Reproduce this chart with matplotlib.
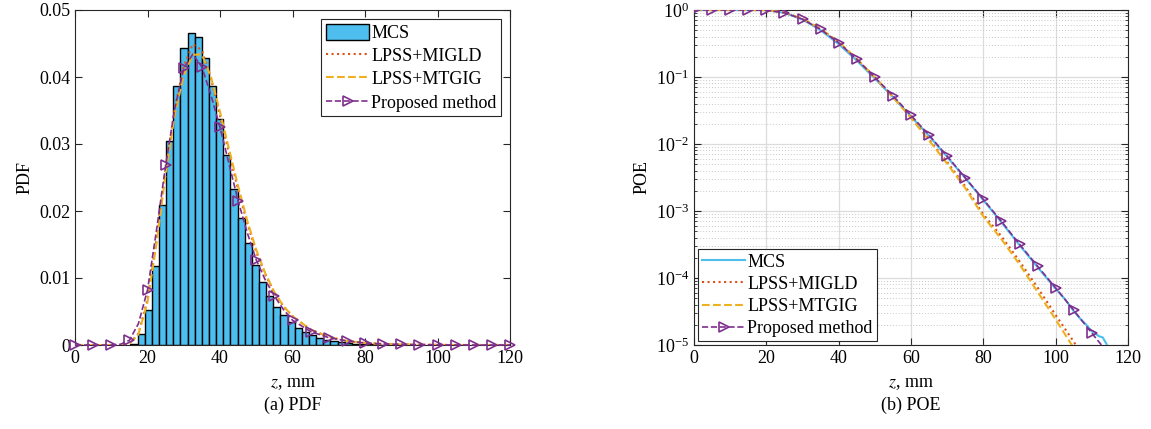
import numpy as np
import matplotlib
matplotlib.use("Agg")
import matplotlib.pyplot as plt
from matplotlib.patches import Patch
from matplotlib.lines import Line2D
from matplotlib.ticker import LogLocator, LogFormatterMathtext, NullFormatter

plt.rcParams["font.family"] = ["Liberation Serif", "DejaVu Serif"]
plt.rcParams["mathtext.fontset"] = "stix"
plt.rcParams["font.size"] = 13

# ── data ────────────────────────────────────────────────────────────

# MCS histogram (2 mm bins, first edge at 15.3 mm)
hist_edge0 = 15.3
hist_width = 1.97
hist_pdf = [0.0002, 0.0016, 0.0052, 0.0118, 0.0209, 0.0304, 0.0387, 0.0444,
            0.0466, 0.0459, 0.0429, 0.0387, 0.0337, 0.0283, 0.0233, 0.0190,
            0.0152, 0.0120, 0.0094, 0.0073, 0.0057, 0.0045, 0.0034, 0.0026,
            0.0020, 0.0015, 0.0011, 0.0008, 0.0006, 0.0005, 0.0003, 0.0002,
            0.00015, 0.0001, 0.00008, 0.00005]

z_pdf = [0, 5, 10, 12.5, 15, 17.5, 20, 22.5, 25, 27.5, 30, 32.5, 35, 37.5, 40,
         42.5, 45, 47.5, 50, 52.5, 55, 57.5, 60, 65, 70, 75, 80, 85, 90, 95,
         100, 105, 110, 115, 120]
pdf_migld = [0, 0, 0, 0, 0.0002, 0.0017, 0.0068, 0.0158, 0.0262, 0.0352,
             0.0416, 0.0449, 0.0440, 0.0398, 0.0342, 0.0286, 0.0232, 0.0182,
             0.0139, 0.0105, 0.0078, 0.0058, 0.0043, 0.0023, 0.0012, 0.0006,
             0.0003, 0.00015, 0.00008, 0.00004, 0.00002, 0, 0, 0, 0]
pdf_mtgig = [0, 0, 0, 0, 0.0002, 0.0016, 0.0064, 0.0152, 0.0255, 0.0343,
             0.0403, 0.0433, 0.0434, 0.0400, 0.0348, 0.0292, 0.0237, 0.0186,
             0.0142, 0.0107, 0.0079, 0.0058, 0.0043, 0.0023, 0.0012, 0.0006,
             0.0003, 0.00015, 0.00008, 0.00004, 0.00002, 0, 0, 0, 0]
pdf_proposed = [0, 0, 0, 0.0001, 0.0007, 0.0032, 0.0082, 0.0172, 0.0268,
                0.0352, 0.0413, 0.0434, 0.0415, 0.0373, 0.0325, 0.0270, 0.0215,
                0.0168, 0.0127, 0.0097, 0.0073, 0.0053, 0.0037, 0.0020, 0.0011,
                0.0006, 0.0003, 0.00015, 0.0001, 0.00005, 0.00003, 0.00001,
                0, 0, 0]

z_poe = [0, 5, 10, 15, 20, 25, 30, 35, 40, 45, 50, 55, 60, 65, 70, 75, 80,
         85, 90, 95, 100, 105, 110, 115, 120]
poe_migld = [1, 1, 1, 1, 0.995, 0.915, 0.735, 0.52, 0.33, 0.186, 0.099, 0.051,
             0.025, 0.0117, 0.0054, 0.00234, 8.9e-4, 4.2e-4, 1.78e-4, 7.2e-5,
             2.8e-5, 1.12e-5, 4e-6, 1.4e-6, 5e-7]
poe_mtgig = [1, 1, 1, 1, 0.995, 0.918, 0.74, 0.525, 0.333, 0.187, 0.099,
             0.050, 0.0245, 0.0113, 0.0051, 0.0022, 8.3e-4, 3.8e-4, 1.6e-4,
             6.2e-5, 2.4e-5, 9e-6, 3.2e-6, 1.1e-6, 4e-7]
poe_proposed = [1, 1, 1, 1, 0.99, 0.912, 0.73, 0.514, 0.325, 0.184, 0.099,
                0.0526, 0.0268, 0.01355, 0.00659, 0.00313, 0.00149, 7.0e-4,
                3.2e-4, 1.5e-4, 7.1e-5, 3.3e-5, 1.5e-5, 7e-6, 3.3e-6]

z_mcs = [0, 5, 10, 15, 20, 25, 30, 35, 40, 45, 50, 55, 60, 65, 70, 75, 80,
         85, 90, 95, 100, 102.5, 105, 107, 108.5, 110, 112, 113, 114, 115]
poe_mcs = [1, 1, 1, 1, 0.995, 0.905, 0.72, 0.50, 0.31, 0.176, 0.095, 0.050,
           0.0258, 0.0132, 0.0064, 0.0031, 0.00145, 6.8e-4, 3.1e-4, 1.45e-4,
           6.9e-5, 4.9e-5, 3.2e-5, 2.4e-5, 2.0e-5, 1.6e-5, 1.35e-5, 1.3e-5,
           1.05e-5, 8e-6]

labels = ["MCS", "LPSS+MIGLD", "LPSS+MTGIG", "Proposed method"]

# ── styles ───────────────────────────────────────────────────────────
C_MCS = "#4DBEEE"
C_MIGLD = "#D95319"
C_MTGIG = "#EDB120"
C_PROP = "#7E2F8E"
AX_COL = "#262626"

fig = plt.figure(figsize=(11.51, 4.29), dpi=100)
ax1 = fig.add_axes([75 / 1151, 1 - 345 / 429, 435 / 1151, 335 / 429])
ax2 = fig.add_axes([694 / 1151, 1 - 345 / 429, 434 / 1151, 335 / 429])


def style_axes(ax):
    for s in ax.spines.values():
        s.set_color(AX_COL)
        s.set_linewidth(0.8)
    ax.tick_params(which="both", direction="in", top=True, right=True,
                   colors=AX_COL, labelcolor="black", labelsize=13)
    ax.tick_params(which="major", length=5)
    ax.tick_params(which="minor", length=2.5)


def marks(z):
    return [float(v) % 5 == 0 for v in z]


# ── (a) PDF ──────────────────────────────────────────────────────────
edges = hist_edge0 + hist_width * np.arange(len(hist_pdf))
ax1.bar(edges, hist_pdf, width=hist_width, align="edge", color=C_MCS,
        edgecolor="black", linewidth=1.0, zorder=2)
ax1.plot(z_pdf, pdf_migld, color=C_MIGLD, ls=":", lw=1.5, zorder=3)
ax1.plot(z_pdf, pdf_mtgig, color=C_MTGIG, ls="--", lw=1.5, zorder=3)
ax1.plot(z_pdf, pdf_proposed, color=C_PROP, ls="--", lw=1.2, marker=">",
         markevery=marks(z_pdf), ms=7, mfc="none", mew=1.2, zorder=4,
         clip_on=False)
ax1.set_xlim(0, 120)
ax1.set_ylim(0, 0.05)
ax1.set_xticks(range(0, 121, 20))
ax1.set_yticks([0, 0.01, 0.02, 0.03, 0.04, 0.05])
ax1.set_yticklabels(["0", "0.01", "0.02", "0.03", "0.04", "0.05"])
style_axes(ax1)
ax1.set_ylabel("PDF", labelpad=4)

h1 = [Patch(facecolor=C_MCS, edgecolor="black", linewidth=1.0),
      Line2D([], [], color=C_MIGLD, ls=":", lw=1.5),
      Line2D([], [], color=C_MTGIG, ls="--", lw=1.5),
      Line2D([], [], color=C_PROP, ls="--", lw=1.2, marker=">", ms=7,
             mfc="none", mew=1.2)]
leg1 = ax1.legend(h1, labels, loc="upper right", fontsize=13, fancybox=False,
                  edgecolor=AX_COL, framealpha=1, borderaxespad=0.5,
                  borderpad=0.25, labelspacing=0.28, handlelength=2.4,
                  handletextpad=0.1, handleheight=1.0)
leg1.get_frame().set_linewidth(0.8)

# ── (b) POE ──────────────────────────────────────────────────────────
ax2.set_yscale("log")
ax2.plot(z_mcs, poe_mcs, color=C_MCS, ls="-", lw=1.5, zorder=3)
ax2.plot(z_poe, poe_migld, color=C_MIGLD, ls=":", lw=1.5, zorder=3)
ax2.plot(z_poe, poe_mtgig, color=C_MTGIG, ls="--", lw=1.5, zorder=3)
ax2.plot(z_poe, poe_proposed, color=C_PROP, ls="--", lw=1.2, marker=">",
         ms=7, mfc="none", mew=1.2, zorder=4)
ax2.set_xlim(0, 120)
ax2.set_ylim(1e-5, 1)
ax2.set_xticks(range(0, 121, 20))
ax2.yaxis.set_major_locator(LogLocator(base=10, numticks=10))
ax2.yaxis.set_major_formatter(LogFormatterMathtext())
ax2.yaxis.set_minor_locator(LogLocator(base=10, subs=np.arange(2, 10), numticks=10))
ax2.yaxis.set_minor_formatter(NullFormatter())
ax2.grid(which="major", color="#dcdcdc", lw=0.9, zorder=0)
ax2.grid(which="minor", axis="y", color="#c8c8c8", ls=(0, (1, 2)), lw=0.7,
         zorder=0)
ax2.set_axisbelow(True)
style_axes(ax2)
ax2.set_ylabel("POE", labelpad=4)

h2 = [Line2D([], [], color=C_MCS, ls="-", lw=1.5)] + h1[1:]
leg2 = ax2.legend(h2, labels, loc="lower left", fontsize=13, fancybox=False,
                  edgecolor=AX_COL, framealpha=1, borderaxespad=0.2,
                  borderpad=0.25, labelspacing=0.28, handlelength=2.4,
                  handletextpad=0.1)
leg2.get_frame().set_linewidth(0.8)

# ── labels and captions ──────────────────────────────────────────────
for ax, cap in ((ax1, "(a) PDF"), (ax2, "(b) POE")):
    box = ax.get_position()
    xc = (box.x0 + box.x1) / 2
    fig.text(xc, 1 - 384 / 429, "$z$, mm", ha="center", va="center",
             fontsize=13)
    fig.text(xc, 1 - 405 / 429, cap, ha="center", va="center", fontsize=13)

fig.savefig("out.png", dpi=100)
